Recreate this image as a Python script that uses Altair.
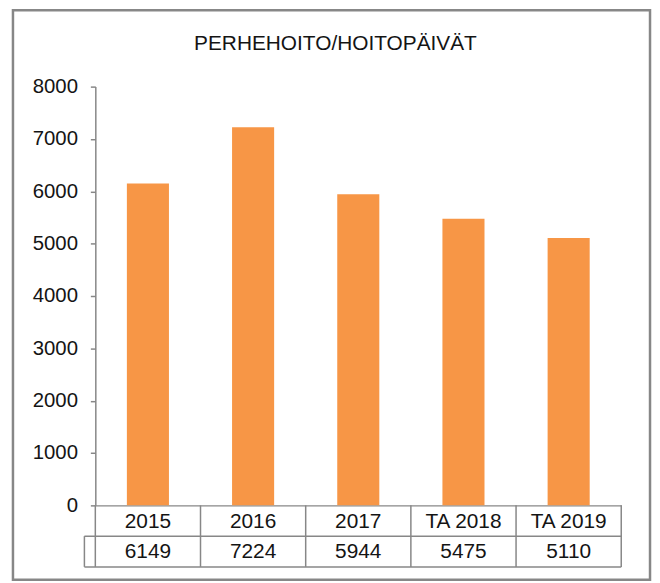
import altair as alt
import pandas as pd

# ---- data ----
categories = ["2015", "2016", "2017", "TA 2018", "TA 2019"]
values = [6149, 7224, 5944, 5475, 5110]
y_ticks = [0, 1000, 2000, 3000, 4000, 5000, 6000, 7000, 8000]
title_text = "PERHEHOITO/HOITOPÄIVÄT"

df = pd.DataFrame({"cat": categories, "value": values})
df["label"] = df["value"].astype(str)

FONT = "Liberation Sans"
GRAY = "#878787"
TEXT = "#141414"
ORANGE = "#F79646"

W, H = 530, 422
ROW = 31

xscale = alt.Scale(domain=categories, paddingInner=0, paddingOuter=0)

base = alt.Chart(df)

bars = base.mark_bar(color=ORANGE, width={"band": 0.4}).encode(
    x=alt.X("cat:N", scale=xscale, sort=categories,
            axis=alt.Axis(title=None, labels=False, ticks=False, grid=False,
                          domainColor=GRAY, domainWidth=1.5)),
    y=alt.Y("value:Q", scale=alt.Scale(domain=[0, 8000], nice=False),
            axis=alt.Axis(title=None, values=y_ticks, grid=False, format="d",
                          domainColor=GRAY, domainWidth=1.5,
                          tickColor=GRAY, tickWidth=1.5, tickSize=5,
                          labelFont=FONT, labelFontSize=20.5, labelColor=TEXT,
                          labelPadding=13)),
)

first = base.transform_filter(alt.datum.cat == categories[0])
last = base.transform_filter(alt.datum.cat == categories[-1])

title = first.mark_text(font=FONT, fontSize=21, color=TEXT, baseline="alphabetic",
                        align="center").encode(
    x=alt.value(242), y=alt.value(-37), text=alt.value(title_text),
)

# table: category row and value row
cat_text = base.mark_text(font=FONT, fontSize=21, color=TEXT, baseline="middle").encode(
    x=alt.X("cat:N", scale=xscale, sort=categories),
    y=alt.value(H + ROW / 2 + 1),
    text="cat:N",
)
val_text = base.mark_text(font=FONT, fontSize=21, color=TEXT, baseline="middle").encode(
    x=alt.X("cat:N", scale=xscale, sort=categories),
    y=alt.value(H + ROW * 1.5 + 1),
    text="label:N",
)

vlines = base.mark_rule(color=GRAY, strokeWidth=1.5).encode(
    x=alt.X("cat:N", scale=xscale, sort=categories, bandPosition=0),
    y=alt.value(H), y2=alt.value(H + 2 * ROW),
)
vline_right = last.mark_rule(color=GRAY, strokeWidth=1.5).encode(
    x=alt.X("cat:N", scale=xscale, sort=categories, bandPosition=1),
    y=alt.value(H), y2=alt.value(H + 2 * ROW),
)
hline_mid = first.mark_rule(color=GRAY, strokeWidth=1.5).encode(
    x=alt.value(-11), x2=alt.value(W), y=alt.value(H + ROW),
)
hline_bot = first.mark_rule(color=GRAY, strokeWidth=1.5).encode(
    x=alt.value(-11), x2=alt.value(W), y=alt.value(H + 2 * ROW),
)
key_left = first.mark_rule(color=GRAY, strokeWidth=1.5).encode(
    x=alt.value(-11), y=alt.value(H + ROW), y2=alt.value(H + 2 * ROW),
)

frame = first.mark_rect(fill=None, stroke=GRAY, strokeWidth=2.5).encode(
    x=alt.value(-83), x2=alt.value(559), y=alt.value(-77), y2=alt.value(497),
)

chart = alt.layer(
    frame, title, bars, vlines, vline_right, hline_mid, hline_bot, key_left,
    cat_text, val_text
).properties(
    width=W, height=H,
    background="white",
    autosize=alt.AutoSizeParams(type="none"),
    padding={"left": 88, "top": 77, "right": 31, "bottom": 77},
).configure_view(stroke="transparent", strokeWidth=0)

chart.save("out.html", embed_options={"renderer": "svg", "actions": False})
